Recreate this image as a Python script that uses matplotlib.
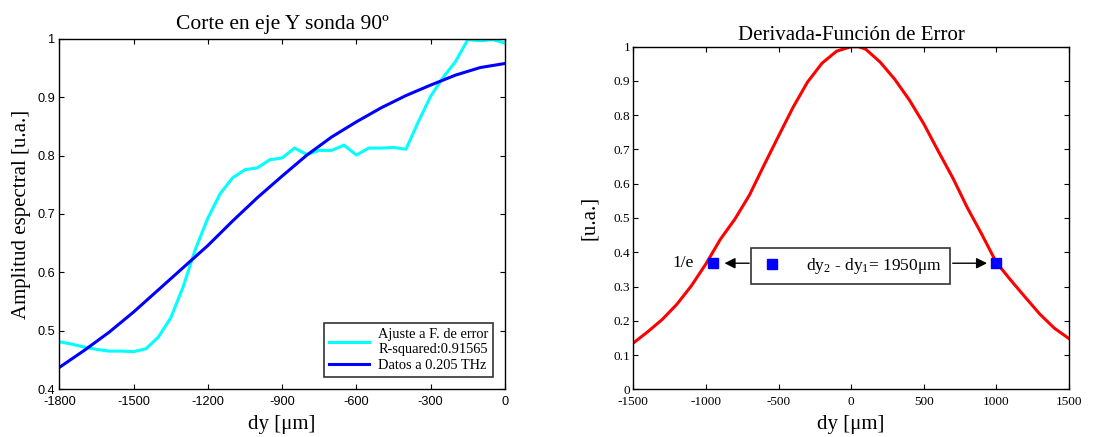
import matplotlib
matplotlib.use("Agg")
import matplotlib.pyplot as plt

# ---- Left panel: cut along Y axis, probe at 90 degrees ----
dy_fit = [-1800, -1750, -1700, -1650, -1600, -1550, -1500, -1450, -1400, -1350,
          -1300, -1250, -1200, -1150, -1100, -1050, -1000, -950, -900, -850,
          -800, -750, -700, -650, -600, -550, -500, -450, -400, -350,
          -300, -250, -200, -150, -100, -50, 0]
amp_fit = [0.481, 0.477, 0.472, 0.468, 0.465, 0.465, 0.464, 0.469, 0.489, 0.522,
           0.575, 0.640, 0.693, 0.735, 0.762, 0.776, 0.779, 0.793, 0.796, 0.813,
           0.802, 0.809, 0.809, 0.818, 0.801, 0.813, 0.813, 0.814, 0.811, 0.858,
           0.902, 0.934, 0.961, 0.999, 0.997, 0.999, 0.993]

dy_data = [-1800, -1700, -1600, -1500, -1400, -1300, -1200, -1100, -1000, -900,
           -800, -700, -600, -500, -400, -300, -200, -100, 0]
amp_data = [0.437, 0.466, 0.497, 0.532, 0.570, 0.608, 0.646, 0.688, 0.728, 0.765,
            0.801, 0.832, 0.858, 0.882, 0.903, 0.921, 0.938, 0.951, 0.958]

left_xticks = [-1800, -1500, -1200, -900, -600, -300, 0]
left_xticklabels = ["-1800", "-1500", "-1200", "-900", "-600", "-300", "0"]
left_yticks = [0.4, 0.5, 0.6, 0.7, 0.8, 0.9, 1.0]
left_yticklabels = ["0.4", "0.5", "0.6", "0.7", "0.8", "0.9", "1"]

# ---- Right panel: derivative of the error function ----
dy_der = [-1500, -1400, -1300, -1200, -1100, -1000, -900, -800, -700, -600,
          -500, -400, -300, -200, -100, 0, 50, 100, 200, 300,
          400, 500, 600, 700, 800, 900, 1000, 1100, 1200, 1300,
          1400, 1500]
amp_der = [0.135, 0.168, 0.204, 0.248, 0.302, 0.366, 0.438, 0.497, 0.567, 0.654,
           0.739, 0.823, 0.897, 0.952, 0.987, 1.000, 1.000, 0.993, 0.955, 0.905,
           0.845, 0.775, 0.695, 0.617, 0.530, 0.452, 0.370, 0.318, 0.268, 0.219,
           0.178, 0.148]

dy_1e = [-950, 1000]
amp_1e = [0.368, 0.368]
width_label = "dy$_2$ - dy$_1$= 1950\u03bcm"

right_xticks = [-1500, -1000, -500, 0, 500, 1000, 1500]
right_xticklabels = ["-1500", "-1000", "-500", "0", "500", "1000", "1500"]
right_yticks = [0, 0.1, 0.2, 0.3, 0.4, 0.5, 0.6, 0.7, 0.8, 0.9, 1.0]
right_yticklabels = ["0", "0.1", "0.2", "0.3", "0.4", "0.5", "0.6", "0.7", "0.8", "0.9", "1"]

SERIF = ["Liberation Serif", "DejaVu Serif"]
SANS = ["Liberation Sans", "DejaVu Sans"]
plt.rcParams["mathtext.fontset"] = "custom"
plt.rcParams["mathtext.rm"] = "Liberation Serif"
plt.rcParams["mathtext.it"] = "Liberation Serif:italic"

fig = plt.figure(figsize=(11.11, 4.37), dpi=100)
fig.patch.set_facecolor("white")

# ---------------- left axes ----------------
ax1 = fig.add_axes([0.0534, 0.1098, 0.4011, 0.8010])
ax1.plot(dy_fit, amp_fit, color="#00ffff", lw=2.2,
         label="Ajuste a F. de error\nR-squared:0.91565")
ax1.plot(dy_data, amp_data, color="#0000ff", lw=2.2, label="Datos a 0.205 THz")
ax1.set_xlim(-1800, 0)
ax1.set_ylim(0.4, 1.0)
ax1.set_xticks(left_xticks)
ax1.set_xticklabels(left_xticklabels, family=SANS, fontsize=9.2)
ax1.set_yticks(left_yticks)
ax1.set_yticklabels(left_yticklabels, family=SANS, fontsize=9.2)
ax1.tick_params(direction="in", length=3.5, width=0.8, top=True, right=True)
ax1.tick_params(axis="x", pad=5)
ax1.tick_params(axis="y", pad=3)
ax1.set_title("Corte en eje Y sonda 90º", family=SERIF, fontsize=15.5, pad=7)
ax1.set_xlabel("dy [\u03bcm]", family=SERIF, fontsize=15)
ax1.set_ylabel("Amplitud espectral [u.a.]", family=SERIF, fontsize=15)
ax1.xaxis.set_label_coords(0.5, -0.074)
ax1.yaxis.set_label_coords(-0.063, 0.5)
leg1 = ax1.legend(loc="lower right", prop={"family": SERIF, "size": 10.4},
                  frameon=True, fancybox=False, edgecolor="black",
                  borderaxespad=0.8, handlelength=2.8, labelspacing=0.25,
                  borderpad=0.35, handletextpad=0.6)
leg1.get_frame().set_linewidth(1.2)
for txt in leg1.get_texts():
    txt.set_multialignment("left")

# ---------------- right axes ----------------
ax2 = fig.add_axes([0.5700, 0.1092, 0.3922, 0.7839])
ax2.plot(dy_der, amp_der, color="#ff0000", lw=2.2)
ax2.plot(dy_1e, amp_1e, linestyle="none", marker="s", markersize=6.5,
         color="#0000ff", label=width_label)
ax2.set_xlim(-1500, 1500)
ax2.set_ylim(0, 1.0)
ax2.set_xticks(right_xticks)
ax2.set_xticklabels(right_xticklabels, family=SERIF, fontsize=9.5)
ax2.set_yticks(right_yticks)
ax2.set_yticklabels(right_yticklabels, family=SERIF, fontsize=9.5)
ax2.tick_params(direction="in", length=3.5, width=0.8, top=True, right=True)
ax2.tick_params(axis="x", pad=5)
ax2.tick_params(axis="y", pad=2)
ax2.set_title("Derivada-Función de Error", family=SERIF, fontsize=15, pad=5)
ax2.set_xlabel("dy [\u03bcm]", family=SERIF, fontsize=15)
ax2.set_ylabel("[u.a.]", family=SERIF, fontsize=15)
ax2.xaxis.set_label_coords(0.5, -0.076)
ax2.yaxis.set_label_coords(-0.078, 0.5)

ax2.text(-1080, amp_1e[0], "1/e", family=SERIF, fontsize=12.5,
         ha="right", va="center")
ax2.annotate("", xy=(-891, amp_1e[0]), xytext=(-683, amp_1e[0]),
             arrowprops=dict(arrowstyle="-|>", color="black", lw=1.0,
                             mutation_scale=16))
ax2.annotate("", xy=(955, amp_1e[1]), xytext=(680, amp_1e[1]),
             arrowprops=dict(arrowstyle="-|>", color="black", lw=1.0,
                             mutation_scale=16))
leg2 = ax2.legend(loc="center", bbox_to_anchor=(0.4985, 0.36),
                  prop={"family": SERIF, "size": 12.5}, frameon=True,
                  fancybox=False, edgecolor="black", handlelength=1.5,
                  borderpad=0.45, handletextpad=1.2, numpoints=1)
leg2.get_frame().set_linewidth(1.2)

for ax in (ax1, ax2):
    for sp in ax.spines.values():
        sp.set_linewidth(1.0)

fig.savefig("out.png", dpi=100, facecolor="white")
